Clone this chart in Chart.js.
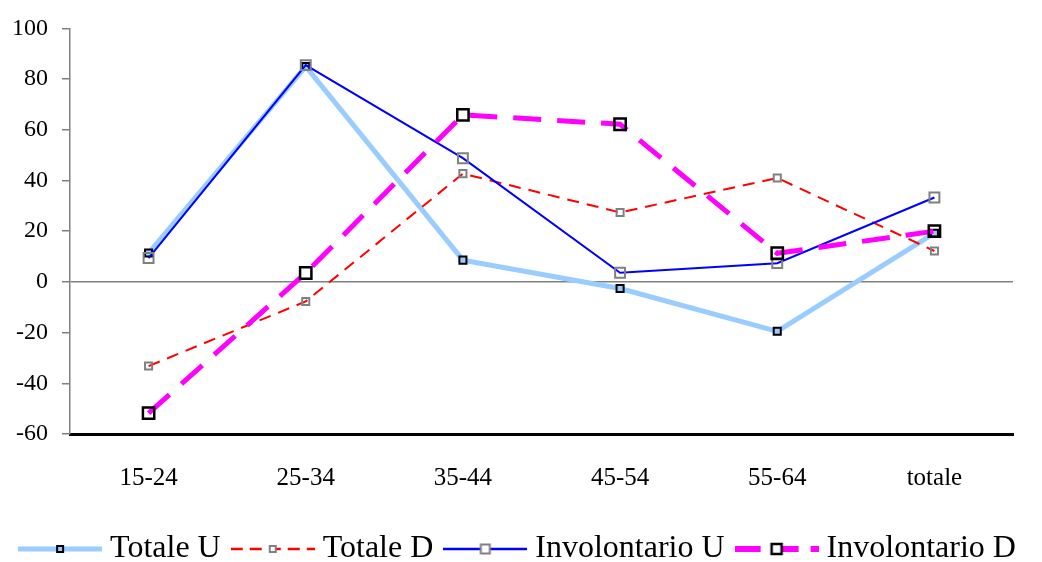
<!DOCTYPE html>
<html>
<head>
<meta charset="utf-8">
<script src="https://cdn.jsdelivr.net/npm/chart.js@4/dist/chart.umd.min.js"></script>
<style>
  html, body { margin: 0; padding: 0; background: #fff; }
  #wrap { width: 1042px; height: 562px; }
</style>
</head>
<body>
<div id="wrap"><canvas id="myChart"></canvas></div>
<script>
const categories = ['15-24', '25-34', '35-44', '45-54', '55-64', 'totale'];
const totaleU = [11.4, 85, 8.6, -2.6, -19.5, 19.2];
const totaleD = [-33.2, -7.7, 42.7, 27.4, 41, 12.2];
const involontarioU = [9.4, 85.5, 48.8, 3.6, 7.4, 33.3];
const involontarioD = [-51.8, 3.5, 65.9, 62.2, 11.3, 20];
const yTicks = [-60, -40, -20, 0, 20, 40, 60, 80, 100];

const serif = '"Liberation Serif", "Times New Roman", serif';

// legend sample: line with marker in the middle
function makeSample(color, width, dash, side, border, borderW, fill) {
    const c = document.createElement('canvas');
    c.width = 84;
    c.height = 20;
    const g = c.getContext('2d');
    g.strokeStyle = color;
    g.lineWidth = width;
    g.setLineDash(dash);
    g.beginPath();
    g.moveTo(0, 10);
    g.lineTo(84, 10);
    g.stroke();
    g.setLineDash([]);
    if (fill) {
        g.fillStyle = fill;
        g.fillRect(42 - side / 2, 10 - side / 2, side, side);
    }
    g.strokeStyle = border;
    g.lineWidth = borderW;
    g.strokeRect(42 - side / 2, 10 - side / 2, side, side);
    return c;
}

const samples = [
    makeSample('#99CCFF', 5, [], 6, '#000', 2, '#99CCFF'),
    makeSample('#FF0000', 2.5, [12, 7], 6, '#808080', 2, '#fff'),
    makeSample('#0000FF', 2.5, [], 9, '#808080', 2, '#fff'),
    makeSample('#FF00FF', 6, [26, 12], 10, '#000', 2.5, '#fff')
];

const data = {
    labels: categories,
    datasets: [{
        label: 'Totale U',
        data: totaleU,
        borderColor: '#99CCFF',
        borderWidth: 5,
        pointStyle: 'rect',
        pointRadius: 5,
        pointBorderWidth: 2,
        pointBorderColor: '#000',
        pointBackgroundColor: '#99CCFF',
        order: 4
    }, {
        label: 'Totale D',
        data: totaleD,
        borderColor: '#FF0000',
        borderWidth: 2,
        borderDash: [12, 8],
        pointStyle: 'rect',
        pointRadius: 5,
        pointBorderWidth: 2,
        pointBorderColor: '#808080',
        pointBackgroundColor: 'rgba(0,0,0,0)',
        order: 3
    }, {
        label: 'Involontario U',
        data: involontarioU,
        borderColor: '#0000FF',
        borderWidth: 2,
        pointStyle: 'rect',
        pointRadius: 7,
        pointBorderWidth: 2,
        pointBorderColor: '#808080',
        pointBackgroundColor: 'rgba(0,0,0,0)',
        order: 2
    }, {
        label: 'Involontario D',
        data: involontarioD,
        borderColor: '#FF00FF',
        borderWidth: 5,
        borderDash: [28, 16],
        pointStyle: 'rect',
        pointRadius: 8,
        pointBorderWidth: 2.5,
        pointBorderColor: '#000',
        pointBackgroundColor: 'rgba(0,0,0,0)',
        order: 1
    }]
};

const options = {
    responsive: true,
    maintainAspectRatio: false,
    animation: false,
    layout: { padding: { top: 14, left: 0, right: 0, bottom: -13 } },
    elements: { line: { tension: 0 } },
    plugins: {
        tooltip: { enabled: false },
        legend: {
            position: 'bottom',
            labels: {
                usePointStyle: true,
                pointStyleWidth: 68,
                padding: 18,
                color: '#000',
                font: { family: serif, size: 32 },
                generateLabels: function(chart) {
                    return chart.data.datasets.map(function(ds, i) {
                        return {
                            text: ds.label,
                            pointStyle: samples[i],
                            fontColor: '#000',
                            datasetIndex: i,
                            lineWidth: 0,
                            strokeStyle: 'rgba(0,0,0,0)',
                            fillStyle: 'rgba(0,0,0,0)'
                        };
                    });
                }
            }
        }
    },
    scales: {
        x: {
            offset: true,
            grid: { display: false },
            border: { display: true, color: '#000', width: 3 },
            afterFit: function(scale) { scale.height += 1; },
            ticks: {
                color: '#000',
                padding: 21,
                maxRotation: 0,
                font: { family: serif, size: 25 }
            }
        },
        y: {
            min: -60,
            max: 100,
            afterBuildTicks: function(scale) {
                scale.ticks = yTicks.map(function(v) { return { value: v }; });
            },
            afterFit: function(scale) { scale.width = 70; },
            grid: {
                drawOnChartArea: true,
                drawTicks: true,
                tickLength: 8,
                tickColor: '#808080',
                color: function(ctx) {
                    return ctx.tick && ctx.tick.value === 0 ? '#808080' : 'rgba(0,0,0,0)';
                },
                lineWidth: 1.5
            },
            border: { display: true, color: '#808080', width: 1.5 },
            ticks: {
                color: '#000',
                padding: 14,
                font: { family: serif, size: 24 }
            }
        },
        yRight: {
            position: 'right',
            grid: { display: false },
            border: { display: false },
            ticks: { display: false },
            afterFit: function(scale) { scale.width = 29; }
        }
    }
};

const ctx = document.getElementById('myChart').getContext('2d');
new Chart(ctx, {
    type: 'line',
    data: data,
    options: options
});
</script>
</body>
</html>
